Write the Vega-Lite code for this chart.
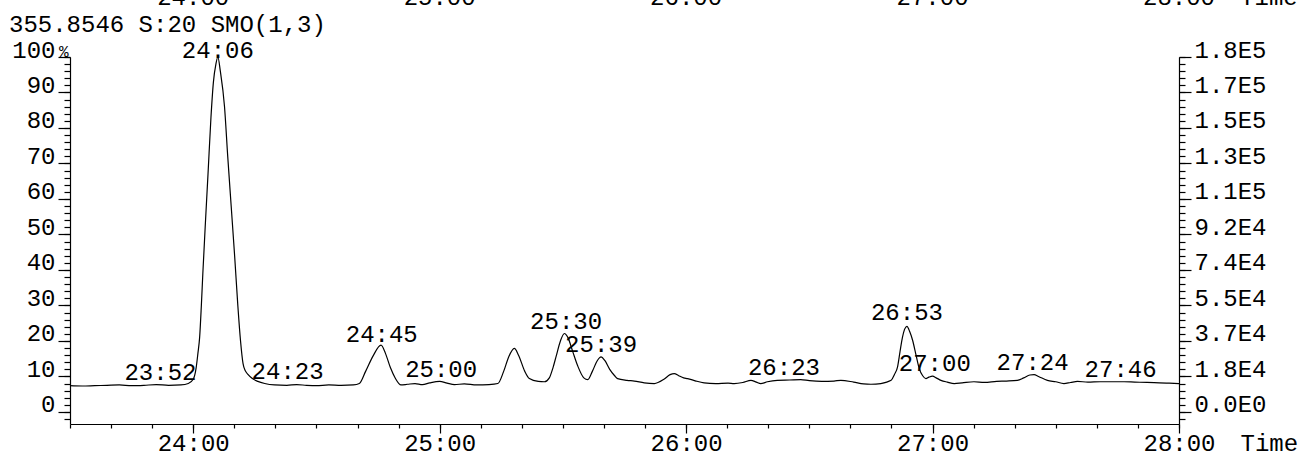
{
  "$schema": "https://vega.github.io/schema/vega-lite/v6.json",
  "width": 1109,
  "height": 367,
  "autosize": {"type": "none"},
  "padding": {"left": 70, "top": 57, "right": 124, "bottom": 32},
  "background": "white",
  "config": {
    "view": {"stroke": null},
    "font": "Liberation Mono",
    "axis": {
      "grid": false,
      "title": null,
      "domainColor": "black",
      "tickColor": "black",
      "labelColor": "black",
      "labelFont": "Liberation Mono",
      "labelFontSize": 24,
      "labelFlush": false,
      "labelOverlap": false,
      "labelBound": false,
      "domainWidth": 1.2,
      "tickWidth": 1.2
    },
    "title": {"font": "Liberation Mono", "fontSize": 24, "fontWeight": "normal", "color": "black"}
  },
  "title": {"text": "355.8546 S:20 SMO(1,3)", "anchor": "start", "frame": "group", "dx": -61, "offset": -70, "baseline": "alphabetic"},
  "datasets": {
    "trace": [
      {"t": 23.5, "v": 7.4}, {"t": 23.55, "v": 7.3}, {"t": 23.6, "v": 7.4}, {"t": 23.65, "v": 7.5},
      {"t": 23.7, "v": 7.6}, {"t": 23.75, "v": 7.4}, {"t": 23.8, "v": 7.5}, {"t": 23.85, "v": 7.7},
      {"t": 23.9, "v": 7.5}, {"t": 23.95, "v": 7.6}, {"t": 23.98, "v": 8.0}, {"t": 24.0, "v": 9.2},
      {"t": 24.012, "v": 12.5}, {"t": 24.019, "v": 16.5}, {"t": 24.026, "v": 21}, {"t": 24.033, "v": 30},
      {"t": 24.039, "v": 39}, {"t": 24.05, "v": 54}, {"t": 24.06, "v": 67}, {"t": 24.072, "v": 83},
      {"t": 24.082, "v": 93}, {"t": 24.092, "v": 98}, {"t": 24.1, "v": 100}, {"t": 24.11, "v": 96},
      {"t": 24.127, "v": 86}, {"t": 24.14, "v": 72}, {"t": 24.154, "v": 58}, {"t": 24.168, "v": 44},
      {"t": 24.181, "v": 30}, {"t": 24.192, "v": 20}, {"t": 24.202, "v": 13.7}, {"t": 24.212, "v": 11.5},
      {"t": 24.222, "v": 10.6}, {"t": 24.24, "v": 9.4}, {"t": 24.262, "v": 8.6}, {"t": 24.29, "v": 8.0},
      {"t": 24.33, "v": 7.6}, {"t": 24.38, "v": 7.5}, {"t": 24.42, "v": 7.7}, {"t": 24.46, "v": 7.5},
      {"t": 24.5, "v": 7.4}, {"t": 24.55, "v": 7.6}, {"t": 24.6, "v": 7.5}, {"t": 24.65, "v": 7.6},
      {"t": 24.674, "v": 8.0}, {"t": 24.7, "v": 11.5}, {"t": 24.73, "v": 15.8}, {"t": 24.762, "v": 18.8},
      {"t": 24.78, "v": 16.5}, {"t": 24.8, "v": 12.5}, {"t": 24.82, "v": 9.5}, {"t": 24.843, "v": 7.6},
      {"t": 24.87, "v": 7.8}, {"t": 24.9, "v": 8.0}, {"t": 24.93, "v": 7.7}, {"t": 24.96, "v": 8.2},
      {"t": 25.0, "v": 8.6}, {"t": 25.03, "v": 8.1}, {"t": 25.06, "v": 7.7}, {"t": 25.1, "v": 7.9},
      {"t": 25.15, "v": 7.6}, {"t": 25.2, "v": 7.7}, {"t": 25.236, "v": 8.0}, {"t": 25.26, "v": 11.5},
      {"t": 25.28, "v": 15.5}, {"t": 25.303, "v": 17.9}, {"t": 25.32, "v": 16}, {"t": 25.345, "v": 11.5},
      {"t": 25.364, "v": 9.4}, {"t": 25.4, "v": 8.6}, {"t": 25.425, "v": 8.5}, {"t": 25.445, "v": 9.6},
      {"t": 25.46, "v": 12.5}, {"t": 25.472, "v": 15.5}, {"t": 25.49, "v": 20}, {"t": 25.506, "v": 22.1},
      {"t": 25.52, "v": 21}, {"t": 25.54, "v": 17}, {"t": 25.56, "v": 13}, {"t": 25.585, "v": 9.6},
      {"t": 25.601, "v": 9.1}, {"t": 25.62, "v": 11.5}, {"t": 25.64, "v": 14.5}, {"t": 25.655, "v": 15.5},
      {"t": 25.67, "v": 14.5}, {"t": 25.69, "v": 12}, {"t": 25.71, "v": 10.2}, {"t": 25.722, "v": 9.4},
      {"t": 25.76, "v": 8.9}, {"t": 25.79, "v": 8.7}, {"t": 25.83, "v": 8.2}, {"t": 25.871, "v": 8.0},
      {"t": 25.91, "v": 9.2}, {"t": 25.935, "v": 10.5}, {"t": 25.952, "v": 10.8}, {"t": 25.97, "v": 10.2},
      {"t": 25.99, "v": 9.6}, {"t": 26.006, "v": 9.4}, {"t": 26.04, "v": 8.7}, {"t": 26.073, "v": 8.2},
      {"t": 26.12, "v": 8.0}, {"t": 26.17, "v": 8.1}, {"t": 26.195, "v": 8.0}, {"t": 26.23, "v": 8.3},
      {"t": 26.263, "v": 8.9}, {"t": 26.285, "v": 8.4}, {"t": 26.303, "v": 8.0}, {"t": 26.33, "v": 8.5},
      {"t": 26.37, "v": 8.9}, {"t": 26.42, "v": 9.0}, {"t": 26.465, "v": 9.1}, {"t": 26.5, "v": 8.8},
      {"t": 26.55, "v": 8.6}, {"t": 26.6, "v": 8.7}, {"t": 26.628, "v": 8.9}, {"t": 26.68, "v": 8.4},
      {"t": 26.72, "v": 7.9}, {"t": 26.75, "v": 7.8}, {"t": 26.79, "v": 8.0}, {"t": 26.832, "v": 8.9},
      {"t": 26.845, "v": 10.5}, {"t": 26.858, "v": 12.7}, {"t": 26.868, "v": 17}, {"t": 26.878, "v": 21.1},
      {"t": 26.896, "v": 24.1}, {"t": 26.908, "v": 22.5}, {"t": 26.919, "v": 20.2}, {"t": 26.933, "v": 16},
      {"t": 26.946, "v": 12.2}, {"t": 26.96, "v": 10.2}, {"t": 26.973, "v": 9.4}, {"t": 26.985, "v": 9.8},
      {"t": 27.0, "v": 10.1}, {"t": 27.015, "v": 9.6}, {"t": 27.034, "v": 8.9}, {"t": 27.06, "v": 8.4},
      {"t": 27.088, "v": 8.0}, {"t": 27.12, "v": 8.2}, {"t": 27.168, "v": 8.5}, {"t": 27.21, "v": 8.3},
      {"t": 27.26, "v": 8.6}, {"t": 27.3, "v": 8.7}, {"t": 27.344, "v": 8.9}, {"t": 27.37, "v": 9.6},
      {"t": 27.395, "v": 10.4}, {"t": 27.412, "v": 10.5}, {"t": 27.43, "v": 10.0}, {"t": 27.466, "v": 8.9},
      {"t": 27.5, "v": 8.5}, {"t": 27.533, "v": 8.0}, {"t": 27.56, "v": 8.3}, {"t": 27.588, "v": 8.6},
      {"t": 27.63, "v": 8.4}, {"t": 27.68, "v": 8.5}, {"t": 27.73, "v": 8.5}, {"t": 27.777, "v": 8.5},
      {"t": 27.82, "v": 8.4}, {"t": 27.87, "v": 8.3}, {"t": 27.92, "v": 8.2}, {"t": 27.96, "v": 8.1},
      {"t": 28.0, "v": 8.0}
    ],
    "peaks": [
      {"t": 24.1, "v": 99.6, "label": "24:06"},
      {"t": 23.867, "v": 8.9, "label": "23:52"},
      {"t": 24.383, "v": 9.4, "label": "24:23"},
      {"t": 24.765, "v": 19.7, "label": "24:45"},
      {"t": 25.006, "v": 9.9, "label": "25:00"},
      {"t": 25.513, "v": 23.5, "label": "25:30"},
      {"t": 25.655, "v": 16.9, "label": "25:39"},
      {"t": 26.397, "v": 10.3, "label": "26:23"},
      {"t": 26.896, "v": 25.8, "label": "26:53"},
      {"t": 27.009, "v": 11.5, "label": "27:00"},
      {"t": 27.406, "v": 11.9, "label": "27:24"},
      {"t": 27.763, "v": 9.9, "label": "27:46"}
    ],
    "toprow": [
      {"t": 24, "v": 114.6, "label": "24:00"},
      {"t": 25, "v": 114.6, "label": "25:00"},
      {"t": 26, "v": 114.6, "label": "26:00"},
      {"t": 27, "v": 114.6, "label": "27:00"},
      {"t": 28, "v": 114.6, "label": "28:00"}
    ],
    "toptime": [
      {"t": 28.248, "v": 114.6, "label": "Time"}
    ],
    "pct": [
      {"t": 23.5, "v": 100, "label": "%"}
    ]
  },
  "layer": [
    {
      "data": {"name": "trace"},
      "mark": {"type": "line", "color": "black", "strokeWidth": 1.2, "interpolate": "monotone"},
      "encoding": {
        "x": {
          "field": "t", "type": "quantitative",
          "scale": {"domain": [23.5, 28], "nice": false, "zero": false},
          "axis": {
            "orient": "bottom", "values": [24, 25, 26, 27, 28], "tickSize": 9,
            "labelBaseline": "alphabetic", "labelPadding": 17,
            "labelExpr": "toString(datum.value) + ':00'",
            "title": "Time", "titleFont": "Liberation Mono", "titleFontSize": 24, "titleFontWeight": "normal",
            "titleColor": "black", "titleAlign": "left", "titleBaseline": "alphabetic",
            "titleAnchor": "start", "titleX": 1170, "titleY": 26
          }
        },
        "y": {
          "field": "v", "type": "quantitative",
          "scale": {"domain": [-3.4, 100], "nice": false, "zero": false},
          "axis": {
            "orient": "left", "values": [0, 10, 20, 30, 40, 50, 60, 70, 80, 90, 100], "tickSize": 12,
            "labelPadding": 3, "labelBaseline": "alphabetic",
            "labelExpr": "toString(datum.value)"
          }
        }
      }
    },
    {
      "data": {"name": "trace"},
      "mark": {"type": "line", "opacity": 0},
      "encoding": {
        "x": {
          "field": "t", "type": "quantitative",
          "scale": {"domain": [23.5, 28], "nice": false, "zero": false},
          "axis": {
            "orient": "bottom", "labels": false, "domain": false, "tickSize": 4,
            "values": [23.5, 23.6667, 23.8333, 24, 24.1667, 24.3333, 24.5, 24.6667, 24.8333, 25, 25.1667, 25.3333, 25.5, 25.6667, 25.8333, 26, 26.1667, 26.3333, 26.5, 26.6667, 26.8333, 27, 27.1667, 27.3333, 27.5, 27.6667, 27.8333, 28]
          }
        },
        "y": {
          "field": "v", "type": "quantitative",
          "scale": {"domain": [-3.4, 100], "nice": false, "zero": false},
          "axis": {
            "orient": "right", "values": [0, 10, 20, 30, 40, 50, 60, 70, 80, 90, 100], "tickSize": 12,
            "labelPadding": 3, "labelBaseline": "alphabetic",
            "labelExpr": "['0.0E0','1.8E4','3.7E4','5.5E4','7.4E4','9.2E4','1.1E5','1.3E5','1.5E5','1.7E5','1.8E5'][round(datum.value / 10)]"
          }
        }
      }
    },
    {
      "data": {"name": "trace"},
      "mark": {"type": "line", "opacity": 0},
      "encoding": {
        "x": {"field": "t", "type": "quantitative", "scale": {"domain": [23.5, 28], "nice": false, "zero": false}, "axis": null},
        "y": {
          "field": "v", "type": "quantitative",
          "scale": {"domain": [-3.4, 100], "nice": false, "zero": false},
          "axis": {
            "orient": "left", "labels": false, "domain": false, "tickSize": 6,
            "values": [-2, 0, 2, 4, 6, 8, 10, 12, 14, 16, 18, 20, 22, 24, 26, 28, 30, 32, 34, 36, 38, 40, 42, 44, 46, 48, 50, 52, 54, 56, 58, 60, 62, 64, 66, 68, 70, 72, 74, 76, 78, 80, 82, 84, 86, 88, 90, 92, 94, 96, 98, 100]
          }
        }
      }
    },
    {
      "data": {"name": "trace"},
      "mark": {"type": "line", "opacity": 0},
      "encoding": {
        "x": {"field": "t", "type": "quantitative", "scale": {"domain": [23.5, 28], "nice": false, "zero": false}, "axis": null},
        "y": {
          "field": "v", "type": "quantitative",
          "scale": {"domain": [-3.4, 100], "nice": false, "zero": false},
          "axis": {
            "orient": "right", "labels": false, "domain": false, "tickSize": 6,
            "values": [-2, 0, 2, 4, 6, 8, 10, 12, 14, 16, 18, 20, 22, 24, 26, 28, 30, 32, 34, 36, 38, 40, 42, 44, 46, 48, 50, 52, 54, 56, 58, 60, 62, 64, 66, 68, 70, 72, 74, 76, 78, 80, 82, 84, 86, 88, 90, 92, 94, 96, 98, 100]
          }
        }
      }
    },
    {
      "data": {"name": "peaks"},
      "mark": {"type": "text", "align": "center", "baseline": "alphabetic", "font": "Liberation Mono", "fontSize": 24, "color": "black"},
      "encoding": {
        "x": {"field": "t", "type": "quantitative", "scale": {"domain": [23.5, 28], "nice": false, "zero": false}, "axis": null},
        "y": {"field": "v", "type": "quantitative", "scale": {"domain": [-3.4, 100], "nice": false, "zero": false}, "axis": null},
        "text": {"field": "label"}
      }
    },
    {
      "data": {"name": "toprow"},
      "mark": {"type": "text", "align": "center", "baseline": "alphabetic", "font": "Liberation Mono", "fontSize": 24, "color": "black"},
      "encoding": {
        "x": {"field": "t", "type": "quantitative", "scale": {"domain": [23.5, 28], "nice": false, "zero": false}, "axis": null},
        "y": {"field": "v", "type": "quantitative", "scale": {"domain": [-3.4, 100], "nice": false, "zero": false}, "axis": null},
        "text": {"field": "label"}
      }
    },
    {
      "data": {"name": "toptime"},
      "mark": {"type": "text", "align": "left", "baseline": "alphabetic", "font": "Liberation Mono", "fontSize": 24, "color": "black"},
      "encoding": {
        "x": {"field": "t", "type": "quantitative", "scale": {"domain": [23.5, 28], "nice": false, "zero": false}, "axis": null},
        "y": {"field": "v", "type": "quantitative", "scale": {"domain": [-3.4, 100], "nice": false, "zero": false}, "axis": null},
        "text": {"field": "label"}
      }
    },
    {
      "data": {"name": "pct"},
      "mark": {"type": "text", "align": "left", "baseline": "alphabetic", "font": "Liberation Mono", "fontSize": 16, "color": "black", "dx": -11},
      "encoding": {
        "x": {"field": "t", "type": "quantitative", "scale": {"domain": [23.5, 28], "nice": false, "zero": false}, "axis": null},
        "y": {"field": "v", "type": "quantitative", "scale": {"domain": [-3.4, 100], "nice": false, "zero": false}, "axis": null},
        "text": {"field": "label"}
      }
    }
  ],
  "resolve": {"axis": {"x": "independent", "y": "independent"}}
}
